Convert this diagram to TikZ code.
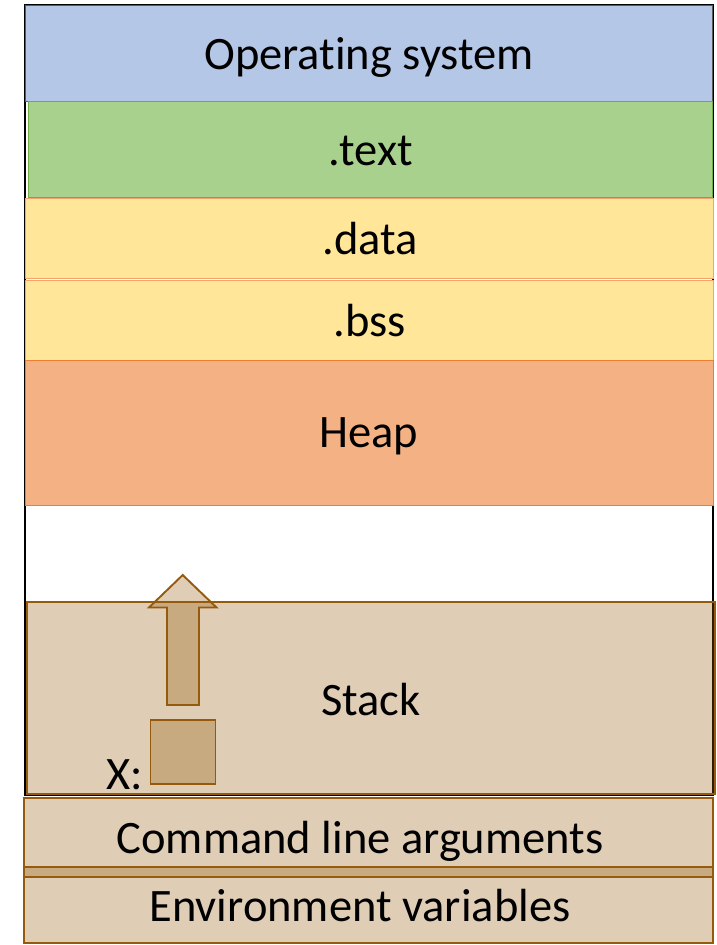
\documentclass[tikz,border=0pt]{standalone}
\usepackage{fontspec}
\setmainfont[Ligatures=NoCommon]{Carlito}
\definecolor{osblue}{HTML}{B4C7E7}
\definecolor{osline}{HTML}{5A5A5A}
\definecolor{txtgreen}{HTML}{A9D18E}
\definecolor{greenline}{HTML}{70AD47}
\definecolor{segyellow}{HTML}{FFE699}
\definecolor{yellowline}{HTML}{F4A46A}
\definecolor{heaporange}{HTML}{F4B183}
\definecolor{orangeline}{HTML}{ED7D31}
\definecolor{stackbrown}{HTML}{965A0C}
\begin{document}
\begin{tikzpicture}[x=1pt,y=-1pt,
  lbl/.style={font=\fontsize{46.5}{56}\selectfont, anchor=base, inner sep=0pt, text=black},
  tanbox/.style={draw=stackbrown, line width=1.9pt, fill=stackbrown, fill opacity=0.3, draw opacity=1}]
\useasboundingbox (0,0) rectangle (717,945);
\fill[white] (0,0) rectangle (717,945);

% outer frame of the address space
\draw[black, line width=1.6pt] (25,5) rectangle (713,795);

% fixed segments
\filldraw[fill=osblue, draw=osline, line width=0.9pt] (25,5) rectangle (712.5,101);
\filldraw[fill=txtgreen, draw=greenline, line width=0.8pt] (28,101) rectangle (712,197.5);
\filldraw[fill=segyellow, draw=yellowline, line width=0.9pt] (25,198.5) rectangle (713,278);
\filldraw[fill=segyellow, draw=yellowline, line width=0.9pt] (25,280) rectangle (713,360);
\filldraw[fill=heaporange, draw=orangeline, line width=0.9pt] (25,360.5) rectangle (713,505);

% stack and the areas below it
\path[tanbox] (27,602) rectangle (715,794);
\path[tanbox] (24,798) rectangle (713,877);
\path[tanbox] (24,867) rectangle (713,943);

% growth arrow and the local variable x
\path[tanbox, line join=miter] (167,705) -- (167,607.5) -- (149,607.5) -- (182.7,575)
  -- (216.5,607.5) -- (199,607.5) -- (199,705) -- cycle;
\path[tanbox] (150.5,720) rectangle (215.5,784);

% labels (the kern keeps "t" and "i" as separate glyphs)
\node[lbl] (os) at (369,69) {Operat\kern0pt ing system};
\node[lbl] (text) at (371,165) {.text};
\node[lbl] (data) at (370,254) {.data};
\node[lbl] (bss) at (370,336) {.bss};
\node[lbl] (heap) at (369,447) {Heap};
\node[lbl] (stack) at (371,715) {Stack};
\node[lbl] (cmd) at (360,853) {Command line arguments};
\node[lbl] (env) at (360,921) {Environment variables};
\node[lbl, anchor=base west] (xvar) at (106,789) {X:};
\end{tikzpicture}
\end{document}
